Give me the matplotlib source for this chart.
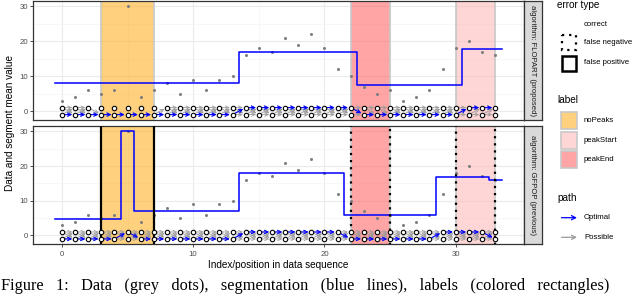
import numpy as np
import matplotlib.pyplot as plt
from matplotlib.patches import Rectangle

plt.rcParams['font.family'] = ['Liberation Sans', 'DejaVu Sans']

# data sequence (grey dots)
data_value = [3, 4, 6, 5, 6, 30, 4, 6, 8, 5, 9, 6, 9, 10, 16, 18, 17, 21, 19,
              22, 18, 12, 10, 7, 5, 6, 3, 4, 6, 12, 18, 20, 17, 16]
data_index = np.arange(len(data_value))

# labels (colored rectangles)
label_start = [3, 22, 30]
label_end = [7, 25, 33]
label_name = ['noPeaks', 'peakEnd', 'peakStart']
label_colors = {'noPeaks': '#ffa500', 'peakStart': '#ffafaf', 'peakEnd': '#ff4c4c'}

# FLOPART segmentation
flopart_start = [-0.5, 13.5, 22.5, 30.5]
flopart_end = [13.5, 22.5, 30.5, 33.5]
flopart_mean = [7.93, 17.0, 7.62, 17.67]
flopart_state = [0, 0, 0, 0, 0, 0, 0, 0, 0, 0, 0, 0, 0, 0, 1, 1, 1, 1, 1, 1, 1,
                 1, 1, 0, 0, 0, 0, 0, 0, 0, 0, 1, 1, 1]
flopart_errors = ['correct', 'correct', 'correct']

# GFPOP segmentation
gfpop_start = [-0.5, 4.5, 5.5, 13.5, 21.5, 28.5, 32.5]
gfpop_end = [4.5, 5.5, 13.5, 21.5, 28.5, 32.5, 33.5]
gfpop_mean = [4.8, 30.0, 7.12, 17.88, 5.86, 16.75, 16.0]
gfpop_state = [0, 0, 0, 0, 0, 1, 0, 0, 0, 0, 0, 0, 0, 0, 1, 1, 1, 1, 1, 1, 1,
               1, 0, 0, 0, 0, 0, 0, 0, 1, 1, 1, 1, 0]
gfpop_errors = ['false positive', 'false negative', 'false negative']

state_y = {0: -1, 1: 1}
W, H = 640, 294


def allowed(i, s1, s2, constrained):
    # which state transitions are possible given the labels
    if not constrained:
        return True
    for st, en, nm in zip(label_start, label_end, label_name):
        if nm == 'noPeaks':
            if st <= i <= en and s1 == 1:
                return False
            if st <= i + 1 <= en and s2 == 1:
                return False
        elif st <= i and i + 1 <= en:
            if nm == 'peakStart' and s1 == 1 and s2 == 0:
                return False
            if nm == 'peakEnd' and s1 == 0 and s2 == 1:
                return False
    return True


fig = plt.figure(figsize=(6.4, 2.94), dpi=100)

panels = [
    ('algorithm: FLOPART (proposed)', flopart_start, flopart_end, flopart_mean,
     flopart_state, flopart_errors, True, 1, 120),
    ('algorithm: GFPOP (previous)', gfpop_start, gfpop_end, gfpop_mean,
     gfpop_state, gfpop_errors, False, 126, 244.3),
]

for k, (title, sstart, send, smean, state, errors, constrained, top, bottom) in enumerate(panels):
    ax = fig.add_axes([33 / W, 1 - bottom / H, (524 - 33) / W, (bottom - top) / H])
    ax.set_xlim(-2.2, 35.2)
    ax.set_ylim(-2.55, 31.55)
    ax.set_xticks([0, 10, 20, 30])
    ax.set_xticks([5, 15, 25, 35], minor=True)
    ax.set_yticks([0, 10, 20, 30])
    ax.set_yticks([5, 15, 25], minor=True)
    ax.grid(which='major', color='#ebebeb', lw=0.8)
    ax.grid(which='minor', color='#f4f4f4', lw=0.5)
    ax.set_axisbelow(True)
    for sp in ax.spines.values():
        sp.set_color('#333333')
        sp.set_linewidth(0.9)
    ax.tick_params(which='major', length=2, width=0.6, color='#333333',
                   labelsize=5.6, labelcolor='#4d4d4d', pad=1.5)
    ax.tick_params(axis='x', pad=3)
    ax.tick_params(which='minor', length=0)
    if k == 0:
        ax.tick_params(axis='x', bottom=False, labelbottom=False)

    # label rectangles
    for st, en, nm, err in zip(label_start, label_end, label_name, errors):
        ax.axvspan(st, en, facecolor=label_colors[nm], alpha=0.5,
                   edgecolor='none', zorder=1)
        ax.axvline(st, color='#c8c8c8', lw=1.2, zorder=1.1)
        ax.axvline(en, color='#c8c8c8', lw=1.2, zorder=1.1)
        if err == 'false positive':
            ax.add_patch(Rectangle((st, -10), en - st, 60, fill=False,
                                   edgecolor='black', lw=1.6, zorder=5))
        elif err == 'false negative':
            ax.add_patch(Rectangle((st, -10), en - st, 60, fill=False,
                                   edgecolor='black', lw=1.6,
                                   linestyle=(0, (1, 2.2)), zorder=5))

    # data
    ax.plot(data_index, data_value, 'o', color='#7f7f7f', ms=2.2, mew=0,
            zorder=3)

    # segment means
    xs, ys = [], []
    for st, en, m in zip(sstart, send, smean):
        xs += [st, en]
        ys += [m, m]
    ax.plot(xs, ys, color='#0000ff', lw=1.1, zorder=4)

    # possible and optimal state paths
    for i in range(len(data_value) - 1):
        for s1 in (0, 1):
            for s2 in (0, 1):
                if allowed(i, s1, s2, constrained):
                    ax.annotate('', xy=(i + 1, state_y[s2]), xytext=(i, state_y[s1]),
                                arrowprops=dict(arrowstyle='->,head_length=0.25,head_width=0.12',
                                                color='#9a9a9a', lw=0.6,
                                                shrinkA=2, shrinkB=2), zorder=3)
        ax.annotate('', xy=(i + 1, state_y[state[i + 1]]),
                    xytext=(i, state_y[state[i]]),
                    arrowprops=dict(arrowstyle='->,head_length=0.25,head_width=0.12',
                                    color='#0000ff', lw=0.8,
                                    shrinkA=2, shrinkB=2), zorder=4)
    for s in (0, 1):
        ax.plot(data_index, [state_y[s]] * len(data_index), 'o', ms=3.2,
                mfc='white', mec='black', mew=0.8, zorder=6)

    # facet strip
    sax = fig.add_axes([524 / W, 1 - bottom / H, 17.5 / W, (bottom - top) / H])
    sax.set_facecolor('#d9d9d9')
    sax.set_xticks([])
    sax.set_yticks([])
    for sp in sax.spines.values():
        sp.set_color('#333333')
        sp.set_linewidth(0.9)
    sax.text(0.5, 0.5, title, rotation=-90, ha='center', va='center',
             fontsize=5.6, color='#1a1a1a', transform=sax.transAxes)

fig.text(10 / W, 1 - 122.5 / H, 'Data and segment mean value', rotation=90,
         ha='center', va='center', fontsize=7.2)
fig.text(278.5 / W, 1 - 265 / H, 'Index/position in data sequence',
         ha='center', va='center', fontsize=7.2)

# legends
lax = fig.add_axes([550 / W, 0, 90 / W, 1])
lax.set_xlim(550, 640)
lax.set_ylim(H, 0)
lax.axis('off')
lax.text(557, 5, 'error type', fontsize=7.2, va='center')
lax.text(584, 24, 'correct', fontsize=5.6, va='center')
lax.text(584, 43, 'false negative', fontsize=5.6, va='center')
lax.text(584, 62.7, 'false positive', fontsize=5.6, va='center')
lax.add_patch(Rectangle((562, 35), 14, 15, fill=False, edgecolor='black',
                        lw=1.6, linestyle=(0, (1, 2.2))))
lax.add_patch(Rectangle((562, 55.5), 14, 15, fill=False, edgecolor='black',
                        lw=1.8))
lax.text(557, 100, 'label', fontsize=7.2, va='center')
for nm, yc in zip(['noPeaks', 'peakStart', 'peakEnd'], [120.5, 140, 159.7]):
    lax.add_patch(Rectangle((561, yc - 8.5), 16, 17, facecolor=label_colors[nm],
                            alpha=0.5, edgecolor='none'))
    lax.add_patch(Rectangle((561, yc - 8.5), 16, 17, fill=False,
                            edgecolor='#c8c8c8', lw=1.2))
    lax.text(584, yc, nm, fontsize=5.6, va='center')
lax.text(557, 198.3, 'path', fontsize=7.2, va='center')
for nm, col, yc in [('Optimal', '#0000ff', 217.7), ('Possible', '#9a9a9a', 237.3)]:
    lax.annotate('', xy=(577, yc), xytext=(561.5, yc),
                 arrowprops=dict(arrowstyle='->,head_length=0.3,head_width=0.15',
                                 color=col, lw=0.9, shrinkA=0, shrinkB=0))
    lax.text(584, yc, nm, fontsize=5.6, va='center')

# caption below the figure (justified in the paper, hence the wide gaps)
caption_words = ['Figure', '1:', 'Data', '(grey', 'dots),', 'segmentation',
                 '(blue', 'lines),', 'labels', '(colored', 'rectangles)']
fig.text(1 / W, 1 - 289.5 / H, '   '.join(caption_words),
         family='Liberation Serif', fontsize=11.8, va='baseline', ha='left')

fig.savefig('out.png', dpi=100)
